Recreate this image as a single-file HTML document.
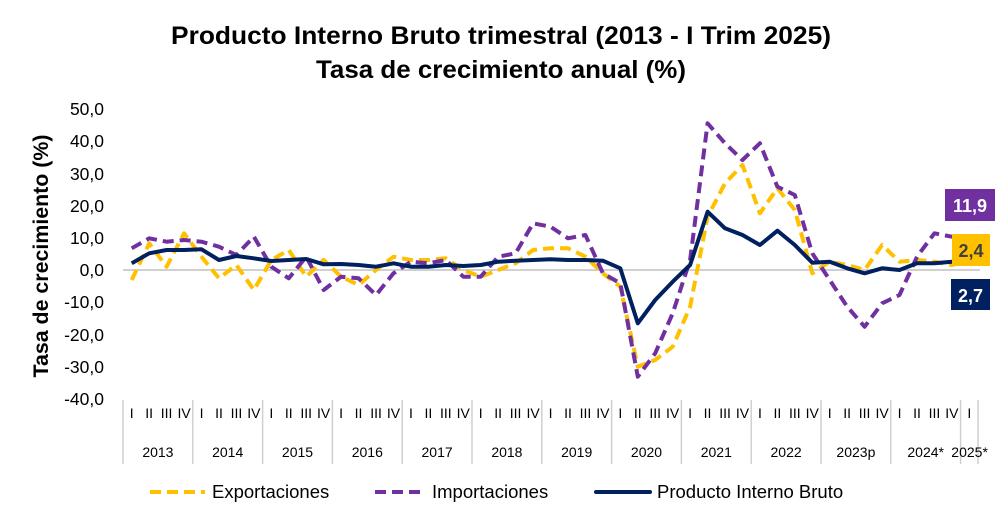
<!DOCTYPE html>
<html><head><meta charset="utf-8"><style>
body{margin:0;background:#fff;}
svg{display:block;font-family:"Liberation Sans",sans-serif;}
</style></head><body>
<svg id="s" width="1002" height="524" viewBox="0 0 1002 524" xmlns="http://www.w3.org/2000/svg">
<text x="501" y="44" text-anchor="middle" font-size="25" font-weight="bold" fill="#000" textLength="660" lengthAdjust="spacingAndGlyphs">Producto Interno Bruto trimestral (2013 - I Trim 2025)</text>
<text x="501" y="78" text-anchor="middle" font-size="25" font-weight="bold" fill="#000" textLength="370" lengthAdjust="spacingAndGlyphs">Tasa de crecimiento anual (%)</text>
<text transform="translate(48,256) rotate(-90)" text-anchor="middle" font-size="21" font-weight="bold" textLength="243" lengthAdjust="spacingAndGlyphs">Tasa de crecimiento (%)</text>
<g font-size="17.5" text-anchor="end" fill="#000">
<text x="104" y="115">50,0</text><text x="104" y="147">40,0</text><text x="104" y="180">30,0</text>
<text x="104" y="212">20,0</text><text x="104" y="244">10,0</text><text x="104" y="276">0,0</text>
<text x="104" y="308">-10,0</text><text x="104" y="341">-20,0</text><text x="104" y="373">-30,0</text>
<text x="104" y="405">-40,0</text>
</g>
<line x1="123" y1="270" x2="980" y2="270" stroke="#d0d0d0" stroke-width="2"/>
<g id="axis" stroke="#d0d0d0" stroke-width="1.5"></g>
<g id="xl" font-size="14" text-anchor="middle" fill="#000"></g>
<g id="lines"></g>
<rect x="945" y="189" width="50" height="32" fill="#7030A0"/>
<text x="970" y="212" text-anchor="middle" font-size="18" font-weight="bold" fill="#fff">11,9</text>
<rect x="952" y="234" width="38" height="32" fill="#FFC000"/>
<text x="971" y="257" text-anchor="middle" font-size="18" font-weight="bold" fill="#404040">2,4</text>
<rect x="951" y="279" width="39" height="31" fill="#002060"/>
<text x="970.5" y="302" text-anchor="middle" font-size="18" font-weight="bold" fill="#fff">2,7</text>
<g font-size="18.5" fill="#000">
<line x1="150" y1="492" x2="205" y2="492" stroke="#FFC000" stroke-width="4" stroke-dasharray="11,6"/>
<text x="212" y="498">Exportaciones</text>
<line x1="375" y1="492" x2="426" y2="492" stroke="#7030A0" stroke-width="4" stroke-dasharray="11,6"/>
<text x="432" y="498">Importaciones</text>
<line x1="596" y1="492" x2="650" y2="492" stroke="#002060" stroke-width="4" stroke-linecap="round"/>
<text x="657" y="498">Producto Interno Bruto</text>
</g>
</svg>
<script>
var NS="http://www.w3.org/2000/svg";
function el(t,a,p){var e=document.createElementNS(NS,t);for(var k in a)e.setAttribute(k,a[k]);p.appendChild(e);return e;}
var ax=document.getElementById('axis'),xl=document.getElementById('xl'),L=document.getElementById('lines');
var q=17.45,x0=123;
var years=["2013","2014","2015","2016","2017","2018","2019","2020","2021","2022","2023p","2024*","2025*"];
var qs=["I","II","III","IV"];
for(var y=0;y<=12;y++){
 var xs=x0+y*4*q;
 el('line',{x1:xs,y1:400,x2:xs,y2:464},ax);
 var n=(y==12)?1:4;
 for(var k=0;k<n;k++){var t=el('text',{x:xs+q*(k+0.5),y:418},xl);t.textContent=qs[k];}
 var t=el('text',{x:(y==12)?xs+9:xs+2*q,y:457},xl);t.textContent=years[y];
}
el('line',{x1:x0+49*q,y1:400,x2:x0+49*q,y2:464},ax);
function conv(a,b){var r=[];a.forEach(function(p){r.push(160+p/3)});b.forEach(function(p){r.push(100+p/3)});return r;}
var pib=conv([310,280,270,270,268,300,288,295,303,300,297,313,312,315,320,310,320,320,315,318,315,305,302,300],
 [478,480,480,482,505,670,600,545,495,335,385,405,435,392,435,488,485,505,520,505,510,490,490,485,475]);
var exp=conv([360,250,320,220,290,355,315,390,300,270,350,300,350,375,330,290,300,300,295,330,350,330,310,270],
 [445,445,470,520,560,800,780,740,620,350,250,195,340,265,330,520,485,495,510,435,485,480,485,495,480]);
var imp=conv([265,235,245,240,245,260,285,230,320,355,290,390,350,355,405,340,305,310,300,350,350,290,280,190],
 [380,415,405,520,550,830,760,640,480,70,130,180,130,260,285,460,540,620,680,610,585,470,400,410,420]);
function pl(d,c,dash){var p=d.map(function(v,i){return (x0+q*(i+0.5)).toFixed(1)+","+v.toFixed(1)}).join(" ");
 var a={points:p,fill:"none",stroke:c,"stroke-width":4,"stroke-linejoin":"round"};if(dash)a["stroke-dasharray"]="11,6";el('polyline',a,L);}
pl(exp,"#FFC000",1);pl(imp,"#7030A0",1);pl(pib,"#002060",0);
</script>
</body></html>
